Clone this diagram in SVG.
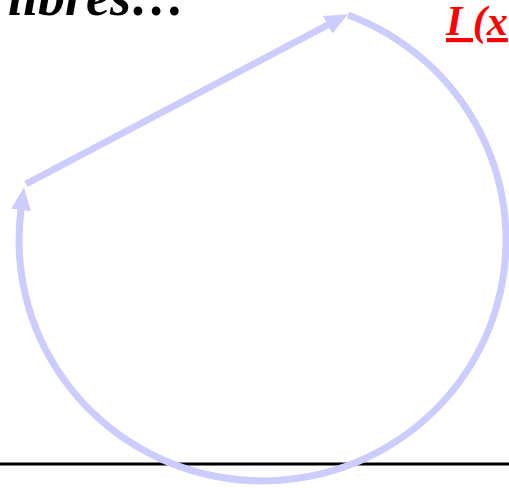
<svg xmlns="http://www.w3.org/2000/svg" width="509" height="488" viewBox="0 0 509 488">
<defs>
<style>
.t{font-family:"Liberation Serif","Times New Roman",serif;font-weight:bold;font-style:italic}
.c{fill:none;stroke:#CCCCFF;stroke-width:7}
</style>
<marker id="ah" markerUnits="userSpaceOnUse" orient="auto" markerWidth="24" markerHeight="22" refX="1" refY="10" viewBox="0 0 24 22">
<path d="M0,0 L23,10 L0,20 z" fill="#CCCCFF"/>
</marker>
</defs>
<rect width="509" height="488" fill="#FFFFFF"/>
<line x1="0" y1="464" x2="509" y2="464" stroke="#000000" stroke-width="3"/>
<g id="title-left"><text class="t" x="8" y="15" font-size="54" fill="#000000">libres…</text></g>
<g id="title-right"><text class="t" x="446" y="35" font-size="42" fill="#FF0000" text-decoration="underline">I (x</text></g>
<g id="connectors">
<path class="c" d="M26,184 L328.5,24.5" marker-end="url(#ah)"/>
<path class="c" d="M348,15 A243.5,240.6 0 1 1 21.1,209" marker-end="url(#ah)"/>
</g>
</svg>
